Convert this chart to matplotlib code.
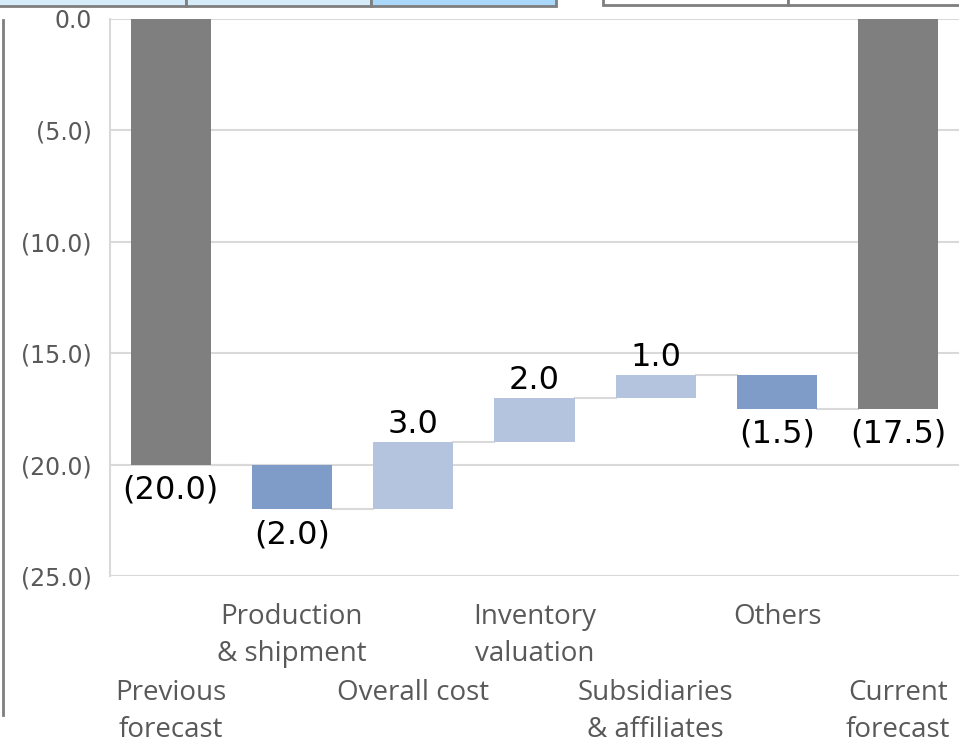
import matplotlib.pyplot as plt
from matplotlib.patches import Rectangle
from matplotlib.lines import Line2D

# categories and values (hundred millions, negative = loss)
categories = ["Previous\nforecast", "Production\n& shipment", "Overall cost",
              "Inventory\nvaluation", "Subsidiaries\n& affiliates", "Others",
              "Current\nforecast"]
changes = [-20.0, -2.0, 3.0, 2.0, 1.0, -1.5, -17.5]
is_total = [True, False, False, False, False, False, True]
yticks = [0, -5, -10, -15, -20, -25]

c_total = "#7f7f7f"
c_neg = "#7f9cc8"
c_pos = "#b4c4de"
c_grid = "#d9d9d9"
c_text = "#595959"

W, H = 959, 744
fig = plt.figure(figsize=(W / 100, H / 100), dpi=100)
ax_h = 576 - 19
ax = fig.add_axes([110 / W, 1 - 576 / H, (959 - 110) / W, ax_h / H])


def fmt(v):
    if v < 0:
        return "({:.1f})".format(-v)
    return "{:.1f}".format(v)


# build waterfall
running = 0.0
bottoms, heights, colors, ends = [], [], [], []
for v, tot in zip(changes, is_total):
    if tot:
        b, h = 0.0, v
        running = v
        col = c_total
    else:
        b, h = running, v
        running = running + v
        col = c_neg if v < 0 else c_pos
    bottoms.append(b)
    heights.append(h)
    colors.append(col)
    ends.append(running)

x = list(range(len(categories)))
ax.bar(x, heights, bottom=bottoms, width=0.66, color=colors, zorder=3)

# connectors
for i in range(len(x) - 1):
    ax.plot([i + 0.33, i + 1 - 0.33], [ends[i], ends[i]], color=c_grid,
            lw=1.5, zorder=2)

# data labels
for i, (b, h, v) in enumerate(zip(bottoms, heights, changes)):
    end = b + h
    if v < 0:
        ax.text(i, end - 0.45, fmt(v), ha="center", va="top", fontsize=23,
                color="black", family="DejaVu Sans")
    else:
        ax.text(i, end + 0.1, fmt(v), ha="center", va="bottom", fontsize=23,
                color="black", family="DejaVu Sans")

ax.set_xlim(-0.5, len(x) - 0.5)
ax.set_ylim(-25, 0)
ax.set_yticks(yticks)
ax.set_yticklabels([fmt(t) for t in yticks], color=c_text, fontsize=17,
                   family="DejaVu Sans")
ax.tick_params(axis="y", length=0, pad=13)
ax.yaxis.grid(True, color=c_grid, lw=1.5, zorder=0)
ax.set_axisbelow(True)

# staggered category labels (odd ones on the upper row)
ax.set_xticks([])
for i, c in enumerate(categories):
    off = 27 if i % 2 == 1 else 103
    ax.text(i, -off / ax_h, c, transform=ax.get_xaxis_transform(),
            ha="center", va="top", color=c_text, fontsize=20,
            family="Open Sans", linespacing=1.45)

for s in ["top", "right", "bottom"]:
    ax.spines[s].set_visible(False)
ax.spines["left"].set_color(c_grid)
ax.spines["left"].set_linewidth(1.5)


# cropped table fragments and border around the slide
def px_rect(x0, y0, x1, y1, fc):
    fig.add_artist(Rectangle((x0 / W, 1 - y1 / H), (x1 - x0) / W, (y1 - y0) / H,
                             transform=fig.transFigure, facecolor=fc,
                             edgecolor="#7f7f7f", lw=2))


px_rect(-5, -5, 186, 6, "#d6ecfb")
px_rect(186, -5, 371, 6, "#d6ecfb")
px_rect(371, -5, 556, 6, "#a9d8fb")
px_rect(603, -5, 788, 5, "white")
px_rect(788, -5, 965, 5, "white")
fig.add_artist(Line2D([3 / W, 3 / W], [1 - 20 / H, 1 - 715 / H],
                      transform=fig.transFigure, color="#7f7f7f", lw=2))

fig.savefig("out.png", dpi=100)
